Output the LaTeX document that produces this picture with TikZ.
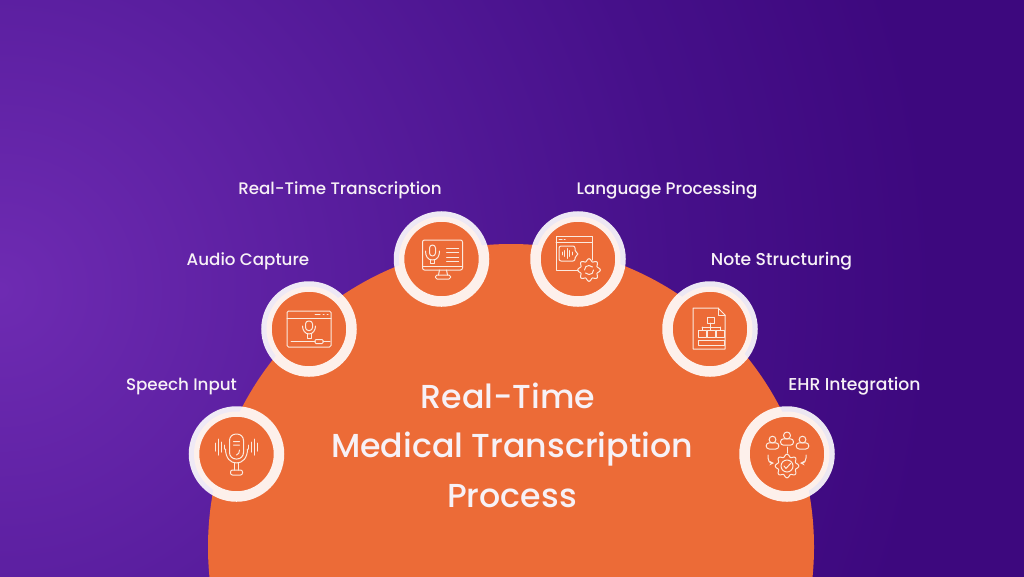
\documentclass[tikz,border=0pt]{standalone}
\usepackage{fontspec}
\setmainfont{Poppins Medium}
\usetikzlibrary{calc}
\definecolor{orangeM}{HTML}{EC6B37}
\definecolor{inkW}{HTML}{FBEADF}
\definecolor{txtW}{HTML}{F7F1F6}
\definecolor{purA}{HTML}{6E2BB2}
\definecolor{purB}{HTML}{5A1E9F}
\definecolor{purC}{HTML}{46108A}
\definecolor{purD}{HTML}{3D087E}
\pgfdeclareradialshading{bgpurple}{\pgfpoint{0bp}{0bp}}{
 color(0bp)=(purA); color(6.2bp)=(purB); color(13bp)=(purC); color(18bp)=(purD); color(50bp)=(purD)}
\tikzset{
 x=1pt,y=-1pt,
 ringnode/.style={circle,draw=white,draw opacity=.9,line width=10.5pt,fill=orangeM,minimum size=85pt,inner sep=0pt},
 steplabel/.style={text=txtW,font=\fontsize{16.7}{18}\selectfont,inner sep=0pt,anchor=base},
 widelabel/.style={steplabel,font=\fontsize{17.2}{18}\selectfont},
 titlelabel/.style={text=txtW,font=\fontsize{33.2}{40}\selectfont,inner sep=0pt,anchor=base},
 ico/.style={draw=inkW,line width=1pt,line cap=round,line join=round,fill=none}
}
\newcommand{\geargl}[4]{% x y r teeth
 \draw[ico] plot[domain=0:360,samples=121,smooth] ({#1+(#3+1.3*cos(#4*\x))*cos(\x)},{#2+(#3+1.3*cos(#4*\x))*sin(\x)}) -- cycle;}
\newcommand{\person}[3]{% x y scale
 \begin{scope}[shift={(#1,#2)},scale=#3]
 \draw[ico] (0,-3.4) circle[radius=3.4];
 \draw[ico,rounded corners=3pt] (-6.3,6) -- (-6.3,-0.2) -- (6.3,-0.2) -- (6.3,6) -- cycle;
 \end{scope}}
\begin{document}
\begin{tikzpicture}
\useasboundingbox (0,0) rectangle (1024,576);
\begin{scope}
 \clip (0,0) rectangle (1024,576);
 \path[shading=bgpurple] (0,290) circle[radius=1300];
 \fill[orangeM] (511,547) circle[radius=303];
\end{scope}
\node[ringnode] (speech) at (236.5,454) {};
\node[ringnode] (audio) at (309,329) {};
\node[ringnode] (rtt) at (441.5,259) {};
\node[ringnode] (lang) at (578,259) {};
\node[ringnode] (note) at (710,329) {};
\node[ringnode] (ehr) at (787,454) {};
\node[steplabel] (l1) at (181.5,390) {Speech Input};
\node[steplabel] (l2) at (248,265) {Audio Capture};
\node[steplabel] (l3) at (340,194) {Real-Time Transcription};
\node[steplabel] (l4) at (667,194) {Language Processing};
\node[widelabel] (l5) at (781.5,265) {Note Structuring};
\node[widelabel] (l6) at (854.5,390) {EHR Integration};
\node[titlelabel] (t1) at (508,408) {Real-Time};
\node[titlelabel] (t2) at (512,457) {Medical Transcription};
\node[titlelabel] (t3) at (512,507) {Process};
% speech mic
\begin{scope}[shift={(speech.center)}]
 \draw[ico,rounded corners=6.5pt] (-7,-20) rectangle (7,5);
 \draw[ico] (-3,-12.5) -- (3,-12.5) (-3,-9) -- (3,-9) (3,-4) .. controls (3,-1) and (2,0) .. (0,1);
 \draw[ico] (-11,-5) .. controls (-11,4) and (-6,9) .. (0,9) .. controls (6,9) and (11,4) .. (11,-5);
 \draw[ico] (-2,9) -- (-2,16) (2,9) -- (2,16);
 \draw[ico,rounded corners=2pt] (-6,21) -- (-6,16) -- (6,16) -- (6,21) -- cycle;
 \foreach \x/\h in {-21/4,-18/8,-15/5,-12/2,12/2,15/5,18/8,21/4}
  \draw[ico] (\x,-7-\h) -- (\x,-7+\h);
\end{scope}
% audio capture
\begin{scope}[shift={(audio.center)}]
 \draw[ico,rounded corners=1.5pt] (-22,-18) rectangle (22,18);
 \draw[ico] (-22,-11) -- (22,-11) (6,-14.5) -- (11,-14.5) (14,-14.5) -- (15,-14.5) (18,-14.5) -- (19,-14.5);
 \draw[ico,rounded corners=3pt] (-3.5,-8) rectangle (3.5,1.5);
 \draw[ico] (-6.5,-3) .. controls (-6.5,1) and (-4,5) .. (0,5) .. controls (4,5) and (6.5,1) .. (6.5,-3);
 \draw[ico] (-2,5) -- (-2,9) -- (2,9) -- (2,5);
 \draw[ico] (-18,12.5) -- (6,12.5) (14,12.5) -- (21,12.5);
 \draw[ico,rounded corners=1pt] (6,10.5) rectangle (14,14.5);
\end{scope}
% realtime transcription
\begin{scope}[shift={(rtt.center)}]
 \draw[ico,rounded corners=2pt] (-19,-19) rectangle (21,11);
 \draw[ico] (-19,7) -- (21,7);
 \draw[ico] (-2,11) -- (-3,16) (5,11) -- (6,16);
 \draw[ico,rounded corners=1.5pt] (-6,20) -- (-6,16) -- (9,16) -- (9,20) -- cycle;
 \draw[ico,rounded corners=3pt] (-12,-14) rectangle (-6,-3);
 \draw[ico] (-16,-8) .. controls (-16,-3) and (-14,1) .. (-9,1) .. controls (-4,1) and (-2,-3) .. (-2,-8);
 \draw[ico] (-11,1) -- (-11,4) -- (-7,4) -- (-7,1);
 \draw[ico] (5,-11) -- (17,-11) (5,-6.5) -- (17,-6.5) (5,-2) -- (17,-2) (5,2.5) -- (17,2.5);
\end{scope}
% language processing
\begin{scope}[shift={(lang.center)}]
 \draw[ico] (14,1) -- (14,-23) -- (-22,-23) -- (-22,11) -- (0,11);
 \draw[ico] (-22,-17) -- (14,-17) (-19,-20) -- (-16,-20) (-14,-20) -- (-13,-20);
 \draw[ico,rounded corners=2pt] (-19,-13) -- (-3,-13) -- (-3,-7) -- (1,-5) -- (-3,-3) -- (-3,2) -- (-19,2) -- cycle;
 \foreach \x/\h in {-16/1.5,-13.5/3,-11/5,-8.5/3,-6/1.5} \draw[ico,line width=.8pt] (\x,-5.5-\h) -- (\x,-5.5+\h);
 \geargl{11}{11}{10}{8}
 \draw[ico] (6.5,11) .. controls (6.5,8) and (8.5,6.5) .. (11,6.5) .. controls (12.5,6.5) and (13.5,7) .. (14.5,8);
 \draw[ico] (15.5,11) .. controls (15.5,14) and (13.5,15.5) .. (11,15.5) .. controls (9.5,15.5) and (8.5,15) .. (7.5,14);
\end{scope}
% note structuring
\begin{scope}[shift={(note.center)}]
 \draw[ico] (-17,-21) -- (8,-21) -- (15,-14) -- (15,20) -- (-17,20) -- cycle;
 \draw[ico] (8,-21) -- (8,-14) -- (15,-14);
 \draw[ico] (-3,-12) rectangle (4,-6);
 \draw[ico] (0.5,-6) -- (0.5,-2) (-8,-2) -- (10,-2) (-8,-2) -- (-8,1) (0.5,-2) -- (0.5,1) (10,-2) -- (10,1);
 \draw[ico] (-12,1) rectangle (-4,8) (-3,1) rectangle (5,8) (6,1) rectangle (14,8);
 \draw[ico] (-12,11) rectangle (14,16);
\end{scope}
% ehr
\begin{scope}[shift={(ehr.center)}]
 \person{-14.5}{-11}{1}
 \person{0}{-15}{1.03}
 \person{15.5}{-11}{1}
 \geargl{0}{12}{10.5}{8}
 \draw[ico] (0,12) circle[radius=6];
 \draw[ico] (-3,12) -- (-1,14.5) -- (3.5,9.5);
 \draw[ico] (0,-7) -- (0,-1);
 \draw[ico,-stealth] (-19,1) -- (-19,4) .. controls (-19,7) and (-17,9) .. (-13,9);
 \draw[ico,-stealth] (19,1) -- (19,4) .. controls (19,7) and (17,9) .. (13,9);
\end{scope}
\end{tikzpicture}
\end{document}
